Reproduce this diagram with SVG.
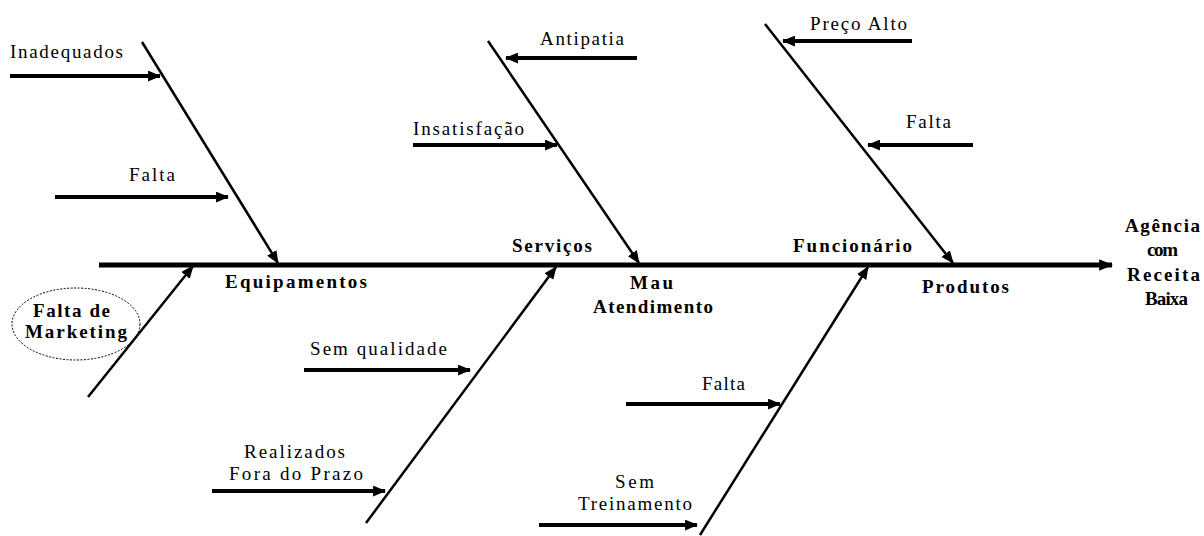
<svg xmlns="http://www.w3.org/2000/svg" width="1204" height="536" viewBox="0 0 1204 536">
<defs>
<style>
.t{font-family:"Liberation Serif","Times New Roman",serif;font-size:19px;fill:#000}
.b{font-family:"Liberation Serif","Times New Roman",serif;font-size:19px;font-weight:bold;fill:#000}
.bone{stroke:#000;stroke-width:2.5;fill:none}
.sub{stroke:#000;stroke-width:4;fill:none}
.spine{stroke:#000;stroke-width:5;fill:none}
</style>
<marker id="ah" viewBox="0 0 12 10" refX="11" refY="5" markerWidth="13" markerHeight="11" markerUnits="userSpaceOnUse" orient="auto">
<path d="M0,0 L12,5 L0,10 z" fill="#000"/>
</marker>
<marker id="ahs" viewBox="0 0 12 10" refX="11" refY="5" markerWidth="14" markerHeight="12" markerUnits="userSpaceOnUse" orient="auto">
<path d="M0,0 L12,5 L0,10 z" fill="#000"/>
</marker>
</defs>
<rect width="1204" height="536" fill="#fff"/>
<g id="connectors">
<line class="spine" x1="99" y1="265" x2="1112" y2="265" marker-end="url(#ahs)"/>
<line class="bone" x1="142" y1="42" x2="278" y2="263" marker-end="url(#ah)"/>
<line class="bone" x1="88" y1="397" x2="193" y2="266" stroke-width="3" marker-end="url(#ah)"/>
<line class="bone" x1="488" y1="41" x2="639" y2="263" marker-end="url(#ah)"/>
<line class="bone" x1="366" y1="523" x2="556" y2="267" marker-end="url(#ah)"/>
<line class="bone" x1="765" y1="24" x2="953" y2="263" marker-end="url(#ah)"/>
<line class="bone" x1="700" y1="535" x2="868" y2="267" marker-end="url(#ah)"/>
<line class="sub" x1="10" y1="76" x2="160" y2="76" marker-end="url(#ah)"/>
<line class="sub" x1="55" y1="197" x2="228" y2="197" marker-end="url(#ah)"/>
<line class="sub" x1="637" y1="58" x2="506" y2="58" marker-end="url(#ah)"/>
<line class="sub" x1="413" y1="145" x2="557" y2="145" marker-end="url(#ah)"/>
<line class="sub" x1="912" y1="41" x2="783" y2="41" marker-end="url(#ah)"/>
<line class="sub" x1="973" y1="145" x2="868" y2="145" marker-end="url(#ah)"/>
<line class="sub" x1="304" y1="370" x2="470" y2="370" marker-end="url(#ah)"/>
<line class="sub" x1="212" y1="491" x2="385" y2="491" marker-end="url(#ah)"/>
<line class="sub" x1="626" y1="404" x2="780" y2="404" marker-end="url(#ah)"/>
<line class="sub" x1="539" y1="525" x2="697" y2="525" marker-end="url(#ah)"/>
</g>
<g id="equipamentos"><text class="b" x="225" y="288" textLength="142" lengthAdjust="spacing">Equipamentos</text></g>
<g id="inadequados"><text class="t" x="10" y="58" textLength="113" lengthAdjust="spacing">Inadequados</text></g>
<g id="falta-equip"><text class="t" x="129" y="181" textLength="46" lengthAdjust="spacing">Falta</text></g>
<g id="falta-marketing">
<ellipse cx="76" cy="324" rx="64" ry="36" fill="none" stroke="#000" stroke-width="1" stroke-dasharray="2,1.5"/>
<text class="b" x="33" y="317" textLength="77" lengthAdjust="spacing">Falta de</text>
<text class="b" x="25" y="338" textLength="102" lengthAdjust="spacing">Marketing</text>
</g>
<g id="servicos"><text class="b" x="512" y="252" textLength="80" lengthAdjust="spacing">Serviços</text></g>
<g id="sem-qualidade"><text class="t" x="310" y="355" textLength="137" lengthAdjust="spacing">Sem qualidade</text></g>
<g id="realizados">
<text class="t" x="244" y="458" textLength="101" lengthAdjust="spacing">Realizados</text>
<text class="t" x="229" y="480" textLength="134" lengthAdjust="spacing">Fora do Prazo</text>
</g>
<g id="mau-atendimento">
<text class="b" x="630" y="289" textLength="43" lengthAdjust="spacing">Mau</text>
<text class="b" x="593" y="313" textLength="120" lengthAdjust="spacing">Atendimento</text>
</g>
<g id="antipatia"><text class="t" x="540" y="45" textLength="84" lengthAdjust="spacing">Antipatia</text></g>
<g id="insatisfacao"><text class="t" x="413" y="135" textLength="111" lengthAdjust="spacing">Insatisfação</text></g>
<g id="funcionario"><text class="b" x="793" y="252" textLength="119" lengthAdjust="spacing">Funcionário</text></g>
<g id="falta-func"><text class="t" x="702" y="390" textLength="43" lengthAdjust="spacing">Falta</text></g>
<g id="sem-treinamento">
<text class="t" x="615" y="488" textLength="39" lengthAdjust="spacing">Sem</text>
<text class="t" x="578" y="510" textLength="114" lengthAdjust="spacing">Treinamento</text>
</g>
<g id="produtos"><text class="b" x="922" y="293" textLength="87" lengthAdjust="spacing">Produtos</text></g>
<g id="preco-alto"><text class="t" x="810" y="30" textLength="97" lengthAdjust="spacing">Preço Alto</text></g>
<g id="falta-prod"><text class="t" x="906" y="128" textLength="45" lengthAdjust="spacing">Falta</text></g>
<g id="agencia">
<text class="b" x="1125" y="232" textLength="75" lengthAdjust="spacing">Agência</text>
<text class="b" x="1147" y="256" textLength="31" lengthAdjust="spacing">com</text>
<text class="b" x="1127" y="281" textLength="73" lengthAdjust="spacing">Receita</text>
<text class="b" x="1145" y="305" textLength="43" lengthAdjust="spacing">Baixa</text>
</g>
</svg>
